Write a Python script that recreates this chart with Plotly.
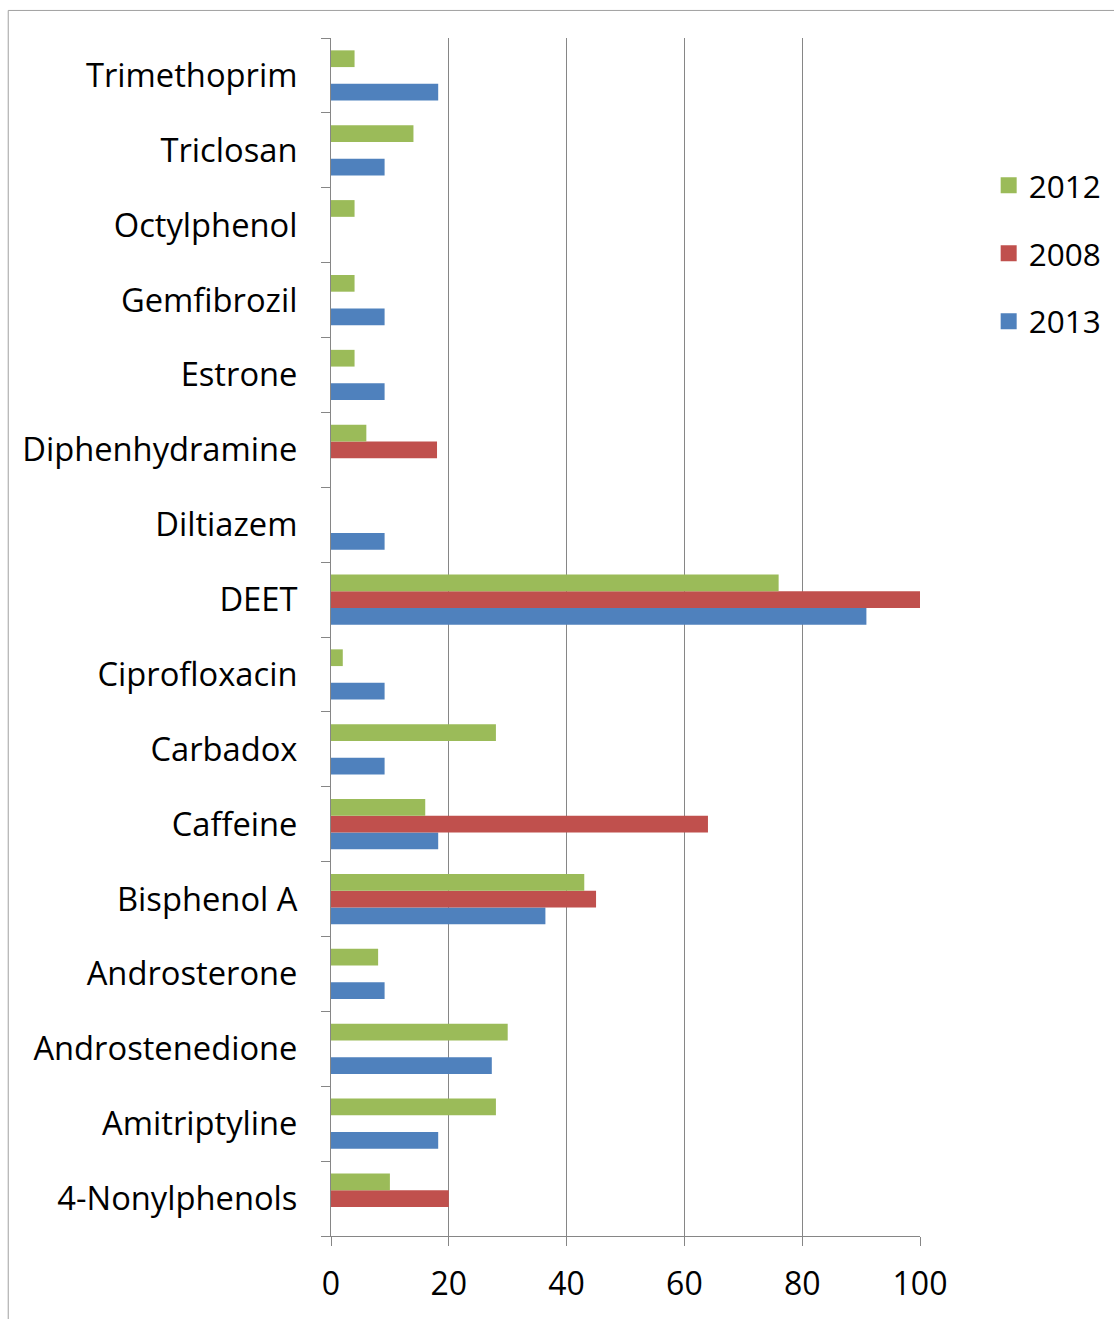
import plotly.graph_objects as go

categories = ["4-Nonylphenols", "Amitriptyline", "Androstenedione", "Androsterone",
              "Bisphenol A", "Caffeine", "Carbadox", "Ciprofloxacin", "DEET",
              "Diltiazem", "Diphenhydramine", "Estrone", "Gemfibrozil",
              "Octylphenol", "Triclosan", "Trimethoprim"]

values_2013 = [None, 18.2, 27.3, 9.1, 36.4, 18.2, 9.1, 9.1, 90.9,
               9.1, None, 9.1, 9.1, None, 9.1, 18.2]
values_2008 = [20, None, None, None, 45, 64, None, None, 100,
               None, 18, None, None, None, None, None]
values_2012 = [10, 28, 30, 8, 43, 16, 28, 2, 76,
               None, 6, 4, 4, 4, 14, 4]

x_ticks = [0, 20, 40, 60, 80, 100]

FONT = "Open Sans, Noto Sans, sans-serif"
AXIS_GRAY = "#868686"

series = [("2013", values_2013, "#4F81BD", 3),
          ("2008", values_2008, "#C0504D", 2),
          ("2012", values_2012, "#9BBB59", 1)]

fig = go.Figure()
for name, vals, color, rank in series:
    fig.add_trace(go.Bar(y=categories, x=vals, name=name, orientation="h",
                         marker=dict(color=color, line=dict(width=0)),
                         legendgroup=name, showlegend=False))
# legend entries with larger square swatches
for name, vals, color, rank in series:
    fig.add_trace(go.Scatter(y=[None], x=[None], name=name, mode="markers",
                             marker=dict(symbol="square", size=20, color=color),
                             legendgroup=name, legendrank=rank, showlegend=True))

fig.update_layout(
    width=1114, height=1319,
    margin=dict(l=331, r=194, t=38, b=83, autoexpand=False),
    barmode="group", bargap=0.33, bargroupgap=0,
    paper_bgcolor="white", plot_bgcolor="white",
    font=dict(family=FONT, size=31, color="#000000"),
    showlegend=True,
    legend=dict(xref="container", yref="container", x=0.8875, y=0.880,
                xanchor="left", yanchor="top",
                traceorder="grouped", tracegroupgap=24,
                itemsizing="trace",
                font=dict(family=FONT, size=31.5, color="#000000"),
                itemwidth=30, bgcolor="rgba(0,0,0,0)"),
    xaxis=dict(range=[0, 100], tickvals=x_ticks, showgrid=True,
               gridcolor=AXIS_GRAY, gridwidth=1, zeroline=False,
               showline=True, linecolor=AXIS_GRAY, linewidth=1,
               ticks="outside", ticklen=9, tickcolor=AXIS_GRAY,
               ticklabelstandoff=11,
               tickfont=dict(family=FONT, size=32, color="#000000"),
               fixedrange=True),
    yaxis=dict(type="category", categoryorder="array", categoryarray=categories,
               showgrid=False, zeroline=False,
               showline=True, linecolor=AXIS_GRAY, linewidth=1,
               ticks="outside", ticklen=9, tickcolor=AXIS_GRAY,
               tickson="boundaries", ticklabelstandoff=26,
               tickfont=dict(family=FONT, size=32.7, color="#000000"),
               fixedrange=True),
)

# outer chart frame (extends past the right and bottom edges like the source)
fig.add_shape(type="rect", xref="paper", yref="paper",
              x0=-0.548, x1=1.40, y0=-0.10, y1=1.023,
              line=dict(color="#A0A0A0", width=1), fillcolor="rgba(0,0,0,0)",
              layer="below")

fig.write_html("out.html", config={"displayModeBar": False},
               post_script="document.body.style.margin='0';")
